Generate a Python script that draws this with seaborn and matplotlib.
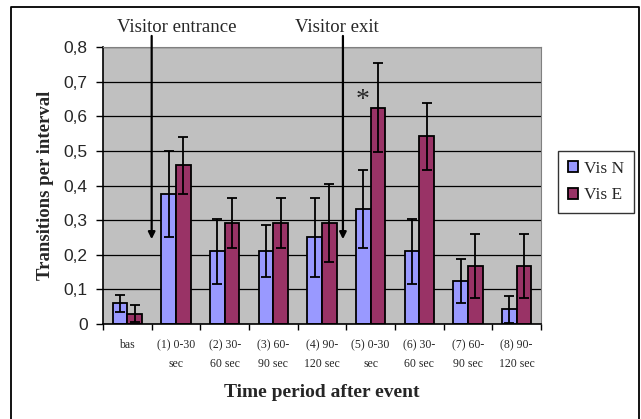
import numpy as np
import pandas as pd
import seaborn as sns
import matplotlib.pyplot as plt
from matplotlib.lines import Line2D

# Data
categories = ["bas", "(1) 0-30\nsec", "(2) 30-\n60 sec", "(3) 60-\n90 sec", "(4) 90-\n120 sec",
              "(5) 0-30\nsec", "(6) 30-\n60 sec", "(7) 60-\n90 sec", "(8) 90-\n120 sec"]
vis_n = [0.06, 0.375, 0.21, 0.21, 0.25, 0.333, 0.21, 0.125, 0.042]
vis_n_err = [0.025, 0.125, 0.094, 0.075, 0.115, 0.113, 0.094, 0.063, 0.04]
vis_e = [0.03, 0.458, 0.292, 0.292, 0.292, 0.625, 0.542, 0.167, 0.167]
vis_e_err = [0.024, 0.083, 0.073, 0.073, 0.113, 0.128, 0.097, 0.093, 0.093]
series = ["Vis N", "Vis E"]
colors = ["#9999FF", "#993366"]
y_ticks = [0, 0.1, 0.2, 0.3, 0.4, 0.5, 0.6, 0.7, 0.8]

df = pd.DataFrame({
    "period": categories * 2,
    "value": vis_n + vis_e,
    "series": [series[0]] * len(categories) + [series[1]] * len(categories),
})

sns.set_style("white")
serif = "Liberation Serif"
sans = "Liberation Sans"

fig = plt.figure(figsize=(6.41, 4.19), dpi=100)
ax = fig.add_axes([0.1607, 0.2267, 0.6833, 0.6611])

sns.barplot(data=df, x="period", y="value", hue="series", palette=colors,
            width=0.6, errorbar=None, edgecolor="black", linewidth=1.3,
            saturation=1, ax=ax)

# error bars on each bar
for cont, errs in zip(ax.containers, [vis_n_err, vis_e_err]):
    xs = [p.get_x() + p.get_width() / 2 for p in cont.patches]
    hs = [p.get_height() for p in cont.patches]
    ax.errorbar(xs, hs, yerr=errs, fmt="none", ecolor="black",
                elinewidth=1.3, capsize=3.3, capthick=1.3, zorder=5)

ax.set_facecolor("#C0C0C0")
ax.set_ylim(0, 0.8)
ax.set_xlim(-0.5, len(categories) - 0.5)
ax.set_yticks(y_ticks)
ax.set_yticklabels([("%g" % t).replace(".", ",") for t in y_ticks],
                   fontsize=12.5, family=sans)
ax.yaxis.grid(True, color="black", linewidth=0.9)
ax.set_axisbelow(True)
ax.tick_params(axis="y", length=5, width=1, color="black", left=True, pad=6)

ax.set_xticks(range(len(categories)))
ax.set_xticklabels(categories, fontsize=8.5, family=serif, linespacing=1.75)
ax.set_xticks(np.arange(-0.5, len(categories)), minor=True)
ax.tick_params(axis="x", which="major", length=0, pad=11)
ax.tick_params(axis="x", which="minor", length=4, width=1, color="black", bottom=True)

for side in ["top", "right"]:
    ax.spines[side].set_color("#808080")
for side in ["left", "bottom"]:
    ax.spines[side].set_color("black")
    ax.spines[side].set_linewidth(1.2)

ax.set_xlabel("Time period after event", fontsize=14,
              family=serif, fontweight="bold", labelpad=10)
ax.set_ylabel("Transitions per interval", fontsize=13.5, family=serif,
              fontweight="bold", labelpad=7)

# annotations
arrow = dict(arrowstyle="-|>", lw=1.6, color="black", mutation_scale=10,
             shrinkA=0, shrinkB=0)
ax.annotate("", xy=(0.5, 0.245), xytext=(0.5, 0.832),
            arrowprops=arrow, annotation_clip=False)
ax.annotate("", xy=(4.43, 0.245), xytext=(4.43, 0.832),
            arrowprops=arrow, annotation_clip=False)
fig.text(177 / 641, 1 - 27 / 419, "Visitor entrance", ha="center", va="center",
         fontsize=13.5, family=serif)
fig.text(337 / 641, 1 - 27 / 419, "Visitor exit", ha="center", va="center",
         fontsize=13.5, family=serif)
ax.text(4.83, 0.645, "*", ha="center", va="center", fontsize=20, family=serif)

# legend
handles = [plt.Rectangle((0, 0), 1, 1, facecolor=c, edgecolor="black", linewidth=1.3)
           for c in colors]
leg = fig.legend(handles, series, loc="center", bbox_to_anchor=(596 / 641, 1 - 182 / 419),
                 prop={"family": serif, "size": 12.5}, frameon=True, fancybox=False,
                 handlelength=0.6, handleheight=0.6, handletextpad=0.35,
                 labelspacing=0.6, borderpad=0.55, borderaxespad=0)
leg.get_frame().set_edgecolor("black")
leg.get_frame().set_linewidth(1)
if ax.get_legend() is not None:
    ax.get_legend().remove()

# outer chart frame (left, top, right)
fx0, fx1, fy1 = 11 / 641, 639 / 641, 1 - 7 / 419
fig.add_artist(Line2D([fx0, fx0, fx1, fx1], [0, fy1, fy1, 0],
                      transform=fig.transFigure, color="black", linewidth=1.3))

fig.savefig("out.png", dpi=100)
